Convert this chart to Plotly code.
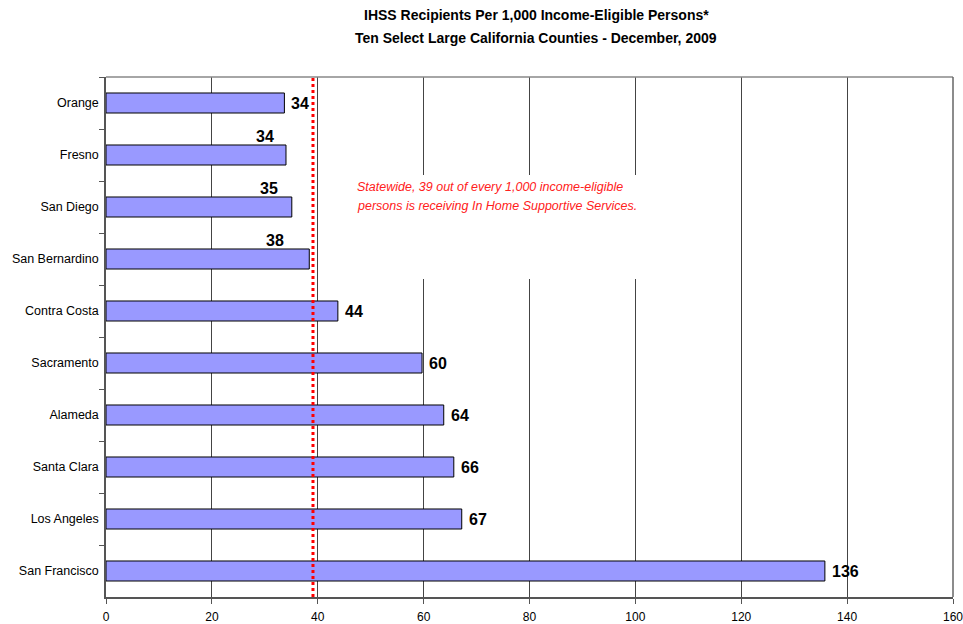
import plotly.graph_objects as go

counties = ["Orange", "Fresno", "San Diego", "San Bernardino", "Contra Costa",
            "Sacramento", "Alameda", "Santa Clara", "Los Angeles", "San Francisco"]
values = [33.7, 34.0, 35.1, 38.4, 43.8, 59.7, 63.8, 65.7, 67.2, 135.8]
labels = ["34", "34", "35", "38", "44", "60", "64", "66", "67", "136"]
statewide = 39.1
x_ticks = [0, 20, 40, 60, 80, 100, 120, 140, 160]

# label placement style (pixel shifts): (xanchor, xshift, yshift)
label_style = [("left", 5, 0), ("right", -10, 19), ("right", -12, 19), ("right", -23, 19),
               ("left", 5, 0), ("left", 5, 0), ("left", 5, 0), ("left", 5, 0),
               ("left", 5, 0), ("left", 5, 0)]

FONT = "Arial, 'Liberation Sans', sans-serif"

fig = go.Figure()
fig.add_trace(go.Bar(
    x=values, y=counties, orientation="h",
    marker=dict(color="#9999FF", line=dict(color="black", width=1)),
    width=0.385, hoverinfo="x+y",
))

annotations = []
for c, v, t, (xa, xs, ys) in zip(counties, values, labels, label_style):
    annotations.append(dict(x=v, y=c, xref="x", yref="y", text=t, showarrow=False,
                            xanchor=xa, yanchor="middle", xshift=xs, yshift=ys,
                            font=dict(family=FONT, size=16, color="black", weight="bold")))

note_lines = ["Statewide, 39 out of every 1,000 income-eligible",
              "persons is receiving In Home Supportive Services."]
for i, line in enumerate(note_lines):
    annotations.append(dict(x=0.294, y=0.7885 - i * 0.0365, xref="paper", yref="paper",
                            xanchor="left", yanchor="middle", showarrow=False,
                            text="<i>" + line + "</i>",
                            font=dict(family=FONT, size=12.5, color="#FF2020")))
annotations.append(dict(x=0.508, y=1.119, xref="paper", yref="paper", xanchor="center", yanchor="middle",
                        showarrow=False, text="<b>IHSS Recipients Per 1,000 Income-Eligible Persons*</b>",
                        font=dict(family=FONT, size=14, color="black")))
annotations.append(dict(x=0.508, y=1.075, xref="paper", yref="paper", xanchor="center", yanchor="middle",
                        showarrow=False, text="<b>Ten Select Large California Counties - December, 2009</b>",
                        font=dict(family=FONT, size=14, color="black")))

shapes = [
    # white text box behind annotation (covers gridlines)
    dict(type="rect", xref="paper", yref="paper", x0=0.27, x1=0.632, y0=0.6115, y1=0.8115,
         fillcolor="white", line=dict(width=0), layer="above"),
    # statewide line
    dict(type="line", xref="x", yref="paper", x0=statewide, x1=statewide, y0=0, y1=1,
         line=dict(color="#FF0000", width=3, dash="dot"), layer="above"),
    # top border
    dict(type="line", xref="paper", yref="paper", x0=0, x1=1, y0=1, y1=1,
         line=dict(color="#888888", width=1.5)),
    # right border
    dict(type="line", xref="paper", yref="paper", x0=1, x1=1, y0=0, y1=1,
         line=dict(color="#666666", width=1.5)),
]

fig.update_layout(
    width=963, height=624,
    margin=dict(l=106, r=10, t=77, b=27),
    paper_bgcolor="white", plot_bgcolor="white",
    showlegend=False,
    annotations=annotations, shapes=shapes,
    bargap=0.6,
    font=dict(family=FONT, size=12, color="black"),
)
fig.update_xaxes(range=[0, 160], tickvals=x_ticks, ticktext=[str(v) for v in x_ticks],
                 showgrid=True, gridcolor="#444444", gridwidth=1,
                 showline=True, linecolor="#555555", linewidth=2,
                 ticks="outside", ticklen=5, tickcolor="#555555",
                 ticklabelstandoff=3, ticklabeloverflow="allow", automargin=False,
                 tickfont=dict(family=FONT, size=12, color="black"), zeroline=False)
fig.update_yaxes(categoryorder="array", categoryarray=counties, autorange="reversed",
                 showline=True, linecolor="#555555", linewidth=1.5,
                 ticks="outside", ticklen=5, tickcolor="#555555", tickson="boundaries",
                 showgrid=False, tickfont=dict(family=FONT, size=12.5, color="black"),
                 ticklabelstandoff=3, automargin=False)

fig.write_html("out.html")
